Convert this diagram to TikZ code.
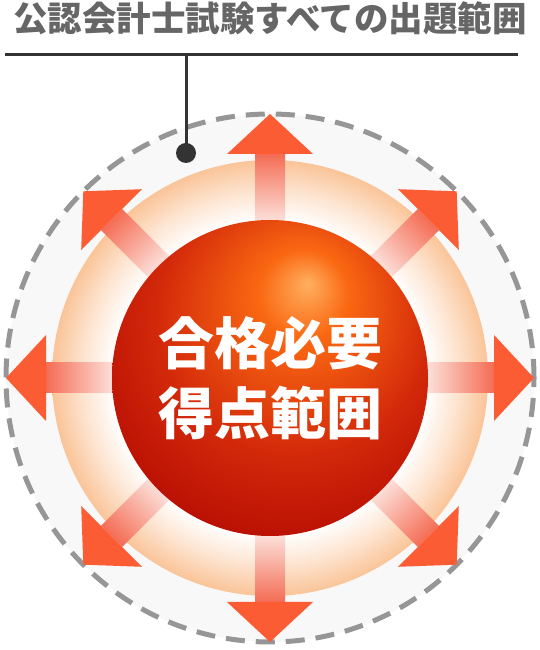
\documentclass[tikz,border=0pt]{standalone}
\usepackage{fontspec}
\newfontfamily\cjk{Noto Sans CJK JP}
\definecolor{titlegray}{RGB}{102,102,102}
\definecolor{leadgray}{RGB}{51,51,51}
\definecolor{dashgray}{RGB}{150,150,150}
\definecolor{bggray}{RGB}{248,248,248}
\definecolor{ringout}{RGB}{250,196,152}
\definecolor{ringmid}{RGB}{253,228,208}
\definecolor{arrowred}{RGB}{252,92,52}
\definecolor{shaftout}{RGB}{244,108,84}
\definecolor{shaftin}{RGB}{252,226,220}
\definecolor{hilite}{RGB}{255,176,96}
\definecolor{sorange}{RGB}{250,104,18}
\definecolor{sred}{RGB}{210,40,10}
\definecolor{sdark}{RGB}{168,0,0}
\pgfdeclareradialshading{ringshade}{\pgfpointorigin}{color(0bp)=(white); color(18bp)=(white); color(21.5bp)=(ringmid); color(25bp)=(ringout); color(50bp)=(ringout)}
\pgfdeclareradialshading{sphereshade}{\pgfpoint{6bp}{15bp}}{color(0bp)=(hilite); color(7bp)=(sorange); color(22bp)=(sred); color(40bp)=(sdark); color(60bp)=(sdark)}
\begin{document}
\begin{tikzpicture}[x=1pt,y=1pt,
    dashring/.style={draw=dashgray,line width=5pt,dash pattern=on 19pt off 11pt,fill=bggray},
    headtip/.style={fill=arrowred},
    leadline/.style={draw=leadgray,line width=3pt},
    title/.style={font=\cjk\bfseries\fontsize{34.5}{40}\selectfont,text=titlegray},
    centertext/.style={font=\cjk\bfseries\fontsize{56}{70}\selectfont,text=white,align=center}]
    \useasboundingbox (0,0) rectangle (540,650);
    \coordinate (c) at (270,272);
    \draw[dashring] (c) circle (264);
    \shade[shading=ringshade] (c) circle (218);
    \foreach \a in {0,45,...,315}{
        \begin{scope}[shift={(c)},rotate=\a]
            \shade[bottom color=shaftin,top color=shaftout,shading angle=\a-90] (156,-15) rectangle (224,15);
            \fill[headtip] (224,-43) -- (264,0) -- (224,43) -- cycle;
        \end{scope}
    }
    \shade[shading=sphereshade] (c) circle (158);
    \node[centertext] (goal) at (c) {合格必要\\得点範囲};
    \node[title] (scope) at (270,632) {公認会計士試験すべての出題範囲};
    \coordinate (lineL) at (5,595);
    \coordinate (lineR) at (518,595);
    \coordinate (stem) at (186,595);
    \node[circle,fill=leadgray,minimum size=20pt,inner sep=0pt] (dot) at (186,497) {};
    \draw[leadline] (lineL) -- (lineR);
    \draw[leadline] (stem) -- (dot.center);
\end{tikzpicture}
\end{document}
